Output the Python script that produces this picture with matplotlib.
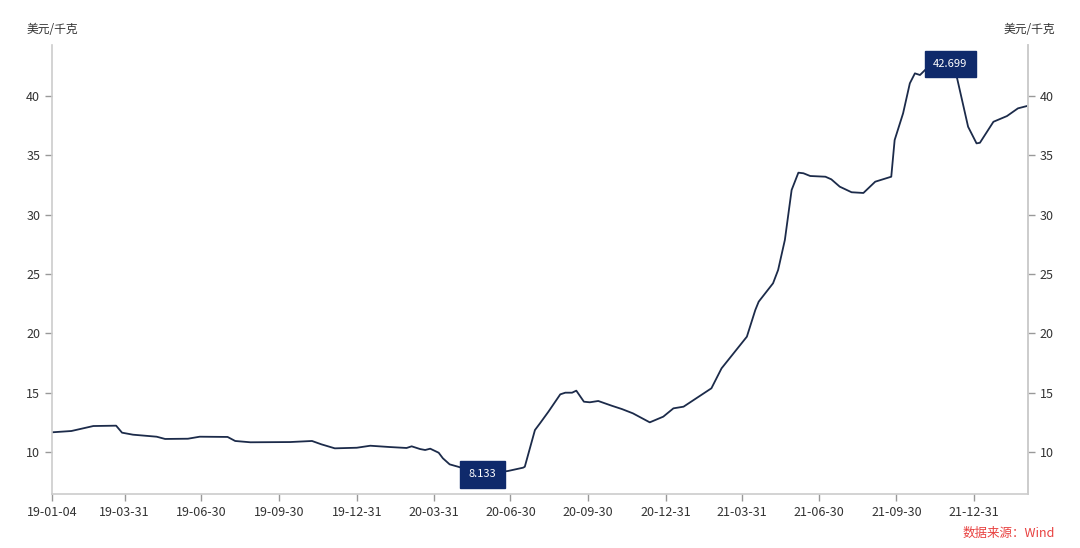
import matplotlib
matplotlib.use("Agg")
import matplotlib.pyplot as plt
import pandas as pd

plt.rcParams['font.family'] = ['Noto Sans CJK SC', 'DejaVu Sans']

dates = ['2019-01-04', '2019-01-27', '2019-02-22', '2019-03-21', '2019-03-28', '2019-04-10',
         '2019-05-08', '2019-05-18', '2019-06-14', '2019-06-28', '2019-07-31', '2019-08-09',
         '2019-08-27', '2019-10-13', '2019-11-08', '2019-11-19', '2019-12-05', '2019-12-31',
         '2020-01-16', '2020-02-08', '2020-02-28', '2020-03-05', '2020-03-15', '2020-03-21',
         '2020-03-27', '2020-04-06', '2020-04-11', '2020-04-19', '2020-04-29', '2020-05-28',
         '2020-06-27', '2020-07-15', '2020-07-17', '2020-07-29', '2020-08-04', '2020-08-14',
         '2020-08-28', '2020-09-03', '2020-09-11', '2020-09-16', '2020-09-25', '2020-10-02',
         '2020-10-12', '2020-10-28', '2020-11-09', '2020-11-22', '2020-12-12', '2020-12-28',
         '2021-01-09', '2021-01-21', '2021-02-23', '2021-03-07', '2021-04-06', '2021-04-16',
         '2021-04-20', '2021-05-07', '2021-05-13', '2021-05-21', '2021-05-29', '2021-06-06',
         '2021-06-12', '2021-06-20', '2021-07-08', '2021-07-15', '2021-07-25', '2021-08-08',
         '2021-08-22', '2021-09-05', '2021-09-24', '2021-09-28', '2021-10-08', '2021-10-16',
         '2021-10-22', '2021-10-28', '2021-11-05', '2021-12-03', '2021-12-11', '2021-12-24',
         '2022-01-03', '2022-01-07', '2022-01-23', '2022-02-08', '2022-02-21', '2022-03-05']
values = [11.66, 11.77, 12.19, 12.22, 11.63, 11.46,
          11.29, 11.10, 11.12, 11.29, 11.27, 10.93,
          10.82, 10.84, 10.93, 10.65, 10.31, 10.36,
          10.53, 10.42, 10.34, 10.48, 10.25, 10.17,
          10.28, 9.94, 9.47, 8.96, 8.76, 8.133,
          8.40, 8.68, 8.76, 11.85, 12.42, 13.40,
          14.86, 15.00, 15.00, 15.17, 14.24, 14.19,
          14.30, 13.90, 13.62, 13.26, 12.50, 12.98,
          13.68, 13.82, 15.37, 17.05, 19.72, 21.97,
          22.67, 24.22, 25.34, 27.87, 32.08, 33.54,
          33.49, 33.26, 33.20, 32.98, 32.36, 31.89,
          31.83, 32.78, 33.20, 36.29, 38.54, 41.07,
          41.91, 41.77, 42.33, 42.699, 41.49, 37.41,
          36.01, 36.06, 37.83, 38.31, 38.96, 39.18]

tick_dates = ['2019-01-04', '2019-03-31', '2019-06-30', '2019-09-30', '2019-12-31', '2020-03-31',
              '2020-06-30', '2020-09-30', '2020-12-31', '2021-03-31', '2021-06-30', '2021-09-30',
              '2021-12-31']
tick_labels = ['19-01-04', '19-03-31', '19-06-30', '19-09-30', '19-12-31', '20-03-31',
               '20-06-30', '20-09-30', '20-12-31', '21-03-31', '21-06-30', '21-09-30',
               '21-12-31']
y_ticks = [10, 15, 20, 25, 30, 35, 40]
unit = '美元/千克'

x = pd.to_datetime(dates)

fig = plt.figure(figsize=(10.8, 5.48), dpi=100)
ax = fig.add_axes([0.0481, 0.0985, 0.9038, 0.8194])
ax.plot(x, values, color='#1c2b4a', lw=1.3)

ax.set_xlim(pd.Timestamp('2019-01-04'), pd.Timestamp('2022-03-05'))
ax.set_ylim(6.46, 44.3)
ax.set_xticks(pd.to_datetime(tick_dates))
ax.set_xticklabels(tick_labels)
ax.set_yticks(y_ticks)

ax.spines['top'].set_visible(False)
for s in ['left', 'bottom', 'right']:
    ax.spines[s].set_color('#cccccc')
    ax.spines[s].set_linewidth(1.2)
ax.tick_params(axis='both', colors='#999999', labelcolor='#333333', labelsize=9, length=5, width=1)

ax2 = ax.twinx()
ax2.set_ylim(ax.get_ylim())
ax2.set_yticks(y_ticks)
for s in ['top', 'left', 'bottom']:
    ax2.spines[s].set_visible(False)
ax2.spines['right'].set_color('#cccccc')
ax2.spines['right'].set_linewidth(1.2)
ax2.tick_params(axis='y', colors='#999999', labelcolor='#333333', labelsize=9, length=5, width=1)

# min / max labels
i_min = values.index(min(values))
i_max = values.index(max(values))
box = dict(boxstyle='square,pad=0.75', fc='#0f2a6b', ec='#0f2a6b')
for i in [i_min, i_max]:
    ax.text(x[i], values[i], f'{values[i]:.3f}', color='white', fontsize=8,
            ha='center', va='center', bbox=box, zorder=5)

fig.text(0.0245, 0.947, unit, fontsize=8.5, color='#333333', ha='left', va='center')
fig.text(0.977, 0.947, unit, fontsize=8.5, color='#333333', ha='right', va='center')
fig.text(0.977, 0.027, '数据来源：Wind', fontsize=9, color='#e8403f', ha='right', va='center')

fig.savefig('out.png', dpi=100)
